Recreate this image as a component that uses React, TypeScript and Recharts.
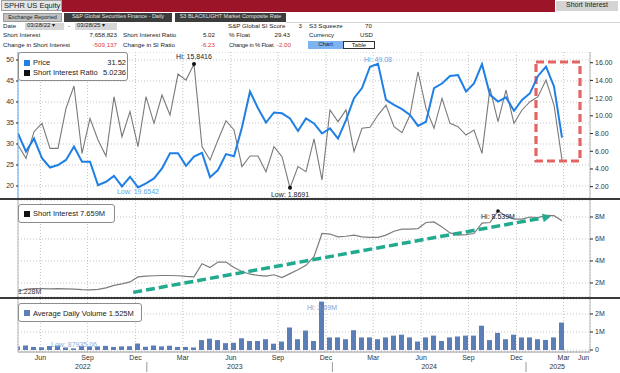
import React from 'react';
import {
  ComposedChart,
  Line,
  Bar,
  XAxis,
  YAxis,
  CartesianGrid,
  ReferenceDot,
  ReferenceArea,
  ReferenceLine,
} from 'recharts';

// semi-monthly samples, Apr 2022 -> Mar 2025
const priceValues = [
  32.5, 28.2, 31.3, 26.6, 24.4, 25.0, 26.2, 29.4, 25.8, 25.8,
  20.2, 21.0, 22.4, 19.9, 22.2, 19.6542, 20.6, 21.8, 24.2, 27.8,
  27.8, 24.8, 27.0, 27.9, 22.1, 23.8, 27.6, 27.1, 34.0, 42.5,
  38.5, 35.1, 37.5, 37.3, 36.1, 33.1, 36.1, 34.9, 32.5, 33.7,
  31.3, 35.7, 40.9, 43.3, 48.4, 49.08, 40.5, 39.3, 38.3, 36.9,
  34.3, 35.3, 43.3, 44.4, 46.2, 46.4, 42.5, 44.4, 49.0, 41.7,
  40.1, 41.1, 37.9, 40.5, 42.1, 46.2, 48.4, 43.7, 31.52,
];

const siRatioValues = [
  6.7, 5.2, 8.21, 9.15, 6.33, 6.33, 10.84, 13.37, 5.76, 9.71,
  7.27, 5.46, 12.16, 7.64, 10.47, 6.52, 12.16, 9.15, 12.35, 10.09,
  14.72, 14.04, 15.8416, 6.52, 5.01, 7.27, 9.45, 8.4, 4.26, 5.46,
  5.46, 3.69, 6.52, 5.39, 1.8691, 4.26, 3.69, 7.4, 2.75, 10.66,
  9.34, 10.66, 5.95, 8.59, 8.7, 10.09, 11.22, 8.77, 8.09, 10.09,
  14.98, 10.84, 8.59, 11.97, 9.15, 8.77, 7.83, 8.4, 5.76, 13.1,
  9.34, 12.91, 9.15, 10.66, 11.6, 12.16, 14.04, 11.22, 5.0236,
];

// millions of shares
const shortInterestM = [
  1.228, 1.45, 1.5, 1.48, 1.47, 1.48, 1.46, 1.44, 1.4, 1.38,
  1.42, 1.55, 1.78, 1.92, 2.1, 2.55, 2.62, 2.66, 2.68, 2.68,
  2.66, 2.6, 2.56, 3.75, 3.4, 3.9, 3.9, 3.4, 3.05, 2.8,
  2.7, 2.62, 2.75, 2.5, 2.85, 3.2, 3.6, 4.4, 6.5, 6.45,
  6.2, 6.25, 6.35, 6.2, 6.15, 6.15, 6.35, 6.7, 6.9, 6.9,
  6.95, 7.5, 7.55, 7.1, 6.55, 6.35, 6.4, 6.5, 7.45, 7.5,
  8.539, 8.1, 7.8, 7.8, 8.0, 7.95, 8.15, 8.12, 7.659,
];

// millions of shares
const avgVolumeM = [
  0.19, 0.25, 0.17, 0.15, 0.22, 0.25, 0.14, 0.088, 0.23, 0.2,
  0.2, 0.23, 0.17, 0.2, 0.21, 0.36, 0.18, 0.25, 0.2, 0.24,
  0.17, 0.17, 0.14, 0.55, 0.63, 0.55, 0.38, 0.4, 0.65, 0.5,
  0.5, 0.6, 0.35, 0.47, 1.25, 0.6, 1.08, 0.5, 2.69, 0.7,
  0.7, 0.6, 1.1, 0.7, 0.7, 0.6, 0.7, 0.8, 0.85, 0.7,
  0.47, 0.7, 0.8, 0.5, 0.7, 0.75, 0.8, 0.8, 1.35, 0.55,
  0.95, 0.6, 0.85, 0.7, 0.7, 0.6, 0.56, 0.7, 1.525,
];

const quarterTickPos = [2.8, 8.7, 14.7, 20.6, 26.6, 32.5, 38.5, 44.4, 50.4, 56.3, 62.3, 68.2, 70.7];
const quarterLabels = ['Jun', 'Sep', 'Dec', 'Mar', 'Jun', 'Sep', 'Dec', 'Mar', 'Jun', 'Sep', 'Dec', 'Mar', 'Jun'];
const gridTickPos = [2.8, 8.7, 14.7, 20.6, 26.6, 32.5, 38.5, 44.4, 50.4, 56.3, 62.3, 68.2];
const yearTickPos = [8.1, 27.1, 51.4, 67.4];
const yearLabels = ['2022', '2023', '2024', '2025'];
const yearBreakPos = [16.1, 39.3, 63.5];

const priceTicks = [20, 25, 30, 35, 40, 45, 50];
const ratioTicks = [2, 4, 6, 8, 10, 12, 14, 16];
const siTicks = [2, 4, 6, 8];
const volTicks = [0, 1, 2];

const rows = priceValues.map((p, i) => ({
  i,
  price: p,
  ratio: siRatioValues[i],
  si: shortInterestM[i],
  vol: avgVolumeM[i],
}));

const X_DOMAIN: [number, number] = [0, 71.5];
const FONT = '"Liberation Sans", Arial, sans-serif';
const axisTick = { fontSize: 7, fill: '#333', fontFamily: FONT };
const GRID = '#c4c4c4';

const argMax = (a: number[]) => a.indexOf(Math.max(...a));
const argMin = (a: number[]) => a.indexOf(Math.min(...a));

function TrendArrow(p: any) {
  const { x1, y1, x2, y2 } = p;
  const ang = Math.atan2(y2 - y1, x2 - x1);
  const L = 8;
  const W = 4.5;
  const bx = x2 - Math.cos(ang) * L;
  const by = y2 - Math.sin(ang) * L;
  const nx = -Math.sin(ang) * W;
  const ny = Math.cos(ang) * W;
  return (
    <g>
      <line x1={x1} y1={y1} x2={bx} y2={by} stroke="#22aa8f" strokeWidth={3.5} strokeDasharray="9 4" />
      <polygon points={`${x2},${y2} ${bx + nx},${by + ny} ${bx - nx},${by - ny}`} fill="#22aa8f" />
    </g>
  );
}

// month / year labels for the bottom axis
function MonthTick(props: any) {
  const { x, y, payload } = props;
  const q = quarterTickPos.indexOf(payload.value);
  return (
    <text x={x} y={y} dy="0.71em" textAnchor="middle" fontSize={7} fill="#333" fontFamily={FONT}>
      {q >= 0 ? quarterLabels[q] : ''}
    </text>
  );
}

function YearTick(props: any) {
  const { x, y, payload } = props;
  const k = yearTickPos.indexOf(payload.value);
  if (k >= 0) {
    return (
      <text x={x} y={y} dy="0.71em" textAnchor="middle" fontSize={7} fill="#333" fontFamily={FONT}>
        {yearLabels[k]}
      </text>
    );
  }
  return <line x1={x} x2={x} y1={y - 2} y2={y + 8} stroke="#9a9a9a" />;
}

function PricePanel() {
  const hiR = argMax(siRatioValues);
  const loR = argMin(siRatioValues);
  const hiP = argMax(priceValues);
  const loP = argMin(priceValues);
  return (
    <ComposedChart width={620} height={146} data={rows} margin={{ top: 0, right: 0, bottom: 0, left: 0 }}>
      <XAxis xAxisId="x" dataKey="i" type="number" domain={X_DOMAIN} ticks={gridTickPos} hide height={0} allowDataOverflow />
      <YAxis
        yAxisId="p" orientation="left" width={18} domain={[17.14, 51.9]} allowDataOverflow
        ticks={priceTicks} interval={0} tick={axisTick} tickSize={2} tickMargin={2}
        axisLine={{ stroke: '#5aa8ee' }} tickLine={{ stroke: '#222' }}
      />
      <YAxis
        yAxisId="r" orientation="right" width={30} domain={[0.72, 17.21]} allowDataOverflow
        ticks={ratioTicks} interval={0} tickFormatter={(v: number) => v.toFixed(2)} tick={axisTick}
        tickSize={3} tickMargin={2} axisLine={{ stroke: '#b8b8b8' }} tickLine={{ stroke: '#222' }}
      />
      <CartesianGrid xAxisId="x" yAxisId="p" stroke={GRID} strokeDasharray="1 2" />
      <Line xAxisId="x" yAxisId="r" dataKey="ratio" type="linear" stroke="#7a7a7a" strokeWidth={1.1} dot={false} isAnimationActive={false} />
      <Line xAxisId="x" yAxisId="p" dataKey="price" type="linear" stroke="#1f7fe5" strokeWidth={2} dot={false} isAnimationActive={false} />
      <ReferenceArea
        xAxisId="x" yAxisId="r" x1={64.75} x2={70.25} y1={4.9} y2={16.08}
        fill="none" stroke="#e46464" strokeWidth={3.2} strokeDasharray="8 4" ifOverflow="visible"
      />
      <ReferenceDot
        xAxisId="x" yAxisId="r" x={hiR} y={siRatioValues[hiR]} r={2} fill="#111" stroke="none"
        label={{ value: `Hi: ${siRatioValues[hiR]}`, position: 'top', offset: 3, fontSize: 7, fill: '#222', fontFamily: FONT }}
      />
      <ReferenceDot
        xAxisId="x" yAxisId="r" x={loR} y={siRatioValues[loR]} r={2} fill="#111" stroke="none"
        label={{ value: `Low: ${siRatioValues[loR]}`, position: 'bottom', offset: 2, fontSize: 7, fill: '#222', fontFamily: FONT }}
      />
      <ReferenceDot
        xAxisId="x" yAxisId="p" x={hiP} y={priceValues[hiP]} r={0} fill="none" stroke="none"
        label={{ value: `Hi: ${priceValues[hiP]}`, position: 'top', offset: 2, fontSize: 7, fill: '#5aa7ea', fontFamily: FONT }}
      />
      <ReferenceDot
        xAxisId="x" yAxisId="p" x={loP} y={priceValues[loP]} r={0} fill="none" stroke="none"
        label={{ value: `Low: ${priceValues[loP]}`, position: 'bottom', offset: 2, fontSize: 7, fill: '#5aa7ea', fontFamily: FONT }}
      />
    </ComposedChart>
  );
}

function ShortInterestPanel() {
  const hi = argMax(shortInterestM);
  const lo = argMin(shortInterestM);
  return (
    <ComposedChart width={620} height={97} data={rows} margin={{ top: 0, right: 0, bottom: 0, left: 0 }}>
      <XAxis xAxisId="x" dataKey="i" type="number" domain={X_DOMAIN} ticks={gridTickPos} hide height={0} allowDataOverflow />
      <YAxis yAxisId="l" orientation="left" width={18} domain={[0, 1]} tick={false} tickLine={false} axisLine={{ stroke: '#b8b8b8' }} />
      <YAxis
        yAxisId="r" orientation="right" width={30} domain={[0.727, 9.545]} allowDataOverflow
        ticks={siTicks} interval={0} tickFormatter={(v: number) => `${v}M`} tick={axisTick}
        tickSize={3} tickMargin={2} axisLine={{ stroke: '#b8b8b8' }} tickLine={{ stroke: '#222' }}
      />
      <CartesianGrid xAxisId="x" yAxisId="r" stroke={GRID} strokeDasharray="1 2" />
      <Line xAxisId="x" yAxisId="r" dataKey="si" type="linear" stroke="#7d7d7d" strokeWidth={1.2} dot={false} isAnimationActive={false} />
      <ReferenceLine
        xAxisId="x" yAxisId="r" segment={[{ x: 14.4, y: 1.15 }, { x: 66.6, y: 8.05 }]}
        shape={TrendArrow} ifOverflow="visible"
      />
      <ReferenceDot
        xAxisId="x" yAxisId="r" x={hi} y={shortInterestM[hi]} r={1.8} fill="#111" stroke="none"
        label={{ value: `Hi: ${shortInterestM[hi]}M`, position: 'bottom', offset: 1, fontSize: 7, fill: '#222', fontFamily: FONT }}
      />
      <ReferenceDot
        xAxisId="x" yAxisId="r" x={lo} y={shortInterestM[lo]} r={0} fill="none" stroke="none"
        label={{ value: `${shortInterestM[lo]}M`, position: 'right', offset: 0, fontSize: 7, fill: '#333', fontFamily: FONT }}
      />
    </ComposedChart>
  );
}

function VolumePanel() {
  const hi = argMax(avgVolumeM);
  const lo = argMin(avgVolumeM);
  const minorTicks = Array.from({ length: 72 }, (_, k) => k);
  return (
    <ComposedChart width={620} height={74} data={rows} margin={{ top: 0, right: 0, bottom: 0, left: 0 }}>
      <XAxis
        xAxisId="a" dataKey="i" type="number" domain={X_DOMAIN} allowDataOverflow ticks={minorTicks} interval={0}
        tick={false} tickSize={2} tickMargin={0} height={3}
        axisLine={{ stroke: '#9a9a9a' }} tickLine={{ stroke: '#9a9a9a' }}
      />
      <XAxis
        xAxisId="b" dataKey="i" type="number" domain={X_DOMAIN} allowDataOverflow ticks={quarterTickPos} interval={0}
        tick={<MonthTick />} tickSize={0} tickMargin={0} tickLine={false} axisLine={false} height={9}
      />
      <XAxis
        xAxisId="c" dataKey="i" type="number" domain={X_DOMAIN} allowDataOverflow
        ticks={[...yearTickPos, ...yearBreakPos]} interval={0}
        tick={<YearTick />} tickSize={0} tickMargin={0} tickLine={false} axisLine={false} height={9}
      />
      <XAxis xAxisId="z" dataKey="i" type="number" domain={X_DOMAIN} allowDataOverflow ticks={gridTickPos} hide height={0} />
      <YAxis yAxisId="l" orientation="left" width={18} domain={[0, 1]} tick={false} tickLine={false} axisLine={{ stroke: '#b8b8b8' }} />
      <YAxis
        yAxisId="r" orientation="right" width={30} domain={[-0.111, 2.833]} allowDataOverflow
        ticks={volTicks} interval={0} tickFormatter={(v: number) => (v === 0 ? '0' : `${v}M`)} tick={axisTick}
        tickSize={3} tickMargin={2} axisLine={{ stroke: '#b8b8b8' }} tickLine={{ stroke: '#222' }}
      />
      <CartesianGrid xAxisId="z" yAxisId="r" stroke={GRID} strokeDasharray="1 2" />
      <Bar xAxisId="a" yAxisId="r" dataKey="vol" fill="#5b7db8" barSize={5} isAnimationActive={false} />
      <ReferenceDot
        xAxisId="a" yAxisId="r" x={hi} y={avgVolumeM[hi]} r={0} fill="none" stroke="none"
        label={{ value: `Hi: ${avgVolumeM[hi]}M`, position: 'bottom', offset: 3, fontSize: 7, fill: '#8aa0c8', fontFamily: FONT }}
      />
      <ReferenceDot
        xAxisId="a" yAxisId="r" x={lo} y={avgVolumeM[lo]} r={0} fill="none" stroke="none"
        label={{ value: 'Low: 87935.06', position: 'top', offset: 1, fontSize: 7, fill: '#8fb0dc', fontFamily: FONT }}
      />
    </ComposedChart>
  );
}

function Txt({ x, cy, right, color = '#222', size = 6.2, spacing = 0, children }: any) {
  const style: React.CSSProperties = {
    position: 'absolute', top: cy - 4, height: 8, lineHeight: '8px', fontSize: size, color,
    whiteSpace: 'nowrap', fontFamily: FONT, letterSpacing: spacing,
  };
  if (right) style.right = 620 - x;
  else style.left = x;
  return <div style={style}>{children}</div>;
}

function Box({ x, y, w, h, bg, color = '#222', border, size = 6.2, align = 'left', children }: any) {
  return (
    <div
      style={{
        position: 'absolute', left: x, top: y, width: w, height: h, background: bg, color, border,
        boxSizing: 'border-box', fontSize: size, lineHeight: `${h - 2}px`, textAlign: align,
        paddingLeft: align === 'left' ? 2 : 0, whiteSpace: 'nowrap', overflow: 'hidden', fontFamily: FONT,
      }}
    >
      {children}
    </div>
  );
}

function Header() {
  const red = '#d63a42';
  return (
    <>
      <Box x={1} y={0} w={61} h={11} bg="#e6e6e6" border="1px solid #a0a0a0" size={7.5}>SPHR US Equity</Box>
      <div style={{ position: 'absolute', left: 62, top: 0, width: 493, height: 12, background: '#9b1427' }} />
      <Box x={556} y={1} w={62} h={10} bg="#d4d4d4" size={7} align="center">Short Interest</Box>

      <Box x={3} y={13} w={59} h={9} bg="#c2c2c2" border="1px solid #9a9a9a" size={5.5} align="center">Exchange Reported</Box>
      <Box x={64} y={13} w={108} h={9} bg="#3c3c3c" color="#e0e0e0" size={5.5} align="center">S&amp;P Global Securities Finance - Daily</Box>
      <Box x={175} y={13} w={111} h={9} bg="#3c3c3c" color="#e0e0e0" size={5.5} align="center">S3 BLACKLIGHT Market Composite Rate</Box>
      <div style={{ position: 'absolute', left: 286, top: 22, width: 334, height: 1, background: '#d4d4d4' }} />

      <Txt x={3} cy={26}>Date</Txt>
      <Box x={25} y={23} w={39} h={7} bg="#d6d6d6" size={6}>03/28/22 ▾</Box>
      <Txt x={68} cy={26}>-</Txt>
      <Box x={75} y={23} w={42} h={7} bg="#d6d6d6" size={6}>03/28/25 ▾</Box>
      <Txt x={228} cy={26}>S&amp;P Global SI Score</Txt>
      <Txt x={302} cy={26} right>3</Txt>
      <Txt x={309} cy={26}>S3 Squeeze</Txt>
      <Txt x={372} cy={26} right>70</Txt>

      <Txt x={3} cy={35}>Short Interest</Txt>
      <Txt x={117} cy={35} right>7,658,823</Txt>
      <Txt x={123} cy={35}>Short Interest Ratio</Txt>
      <Txt x={215} cy={35} right>5.02</Txt>
      <Txt x={229} cy={35}>% Float</Txt>
      <Txt x={290} cy={35} right>29.43</Txt>
      <Txt x={309} cy={35}>Currency</Txt>
      <Txt x={373} cy={35} right>USD</Txt>

      <Txt x={3} cy={45}>Change in Short Interest</Txt>
      <Txt x={117} cy={45} right color={red}>-509,137</Txt>
      <Txt x={123} cy={45}>Change in SI Ratio</Txt>
      <Txt x={215} cy={45} right color={red}>-6.23</Txt>
      <Txt x={229} cy={45} size={5.8} spacing={-0.2}>Change in % Float</Txt>
      <Txt x={291} cy={45} right color={red}>-2.00</Txt>
      <Box x={308} y={41} w={35} h={8} bg="#7eb3f2" size={6} align="center">Chart</Box>
      <Box x={343} y={41} w={32} h={8} bg="#fff" border="1px solid #333" size={6} align="center">Table</Box>
    </>
  );
}

function LegendBox({ x, y, w, h, top, items }: any) {
  return (
    <div
      style={{
        position: 'absolute', left: x, top: y, width: w, height: h, border: '1px solid #8c8c8c',
        borderRadius: 3, background: '#fff', boxSizing: 'border-box', fontFamily: FONT,
      }}
    >
      {items.map((it: any, k: number) => (
        <div
          key={k}
          style={{
            position: 'absolute', left: 5, right: 1, top: top + k * 10, height: 9, display: 'flex',
            alignItems: 'center', fontSize: 7.5, color: '#222', whiteSpace: 'nowrap',
          }}
        >
          <span style={{ width: 6, height: 6, background: it.color, marginRight: 3, flex: 'none' }} />
          <span style={{ flex: 1 }}>{it.label}</span>
          {it.value ? <span>{it.value}</span> : null}
        </div>
      ))}
    </div>
  );
}

export default function App() {
  return (
    <div style={{ position: 'relative', width: 620, height: 373, overflow: 'hidden', background: '#fff', fontFamily: FONT }}>
      <style>{'body{margin:0}'}</style>
      <Header />
      <div style={{ position: 'absolute', left: 0, top: 52 }}>
        <PricePanel />
      </div>
      <div style={{ position: 'absolute', left: 0, top: 200 }}>
        <ShortInterestPanel />
      </div>
      <div style={{ position: 'absolute', left: 0, top: 299 }}>
        <VolumePanel />
      </div>
      <div style={{ position: 'absolute', left: 0, top: 198, width: 620, height: 2, background: '#3a3a3a' }} />
      <div style={{ position: 'absolute', left: 0, top: 297, width: 620, height: 2, background: '#3a3a3a' }} />
      <LegendBox
        x={18} y={52} w={110} h={29} top={5}
        items={[
          { color: '#1f7fe5', label: 'Price', value: priceValues[priceValues.length - 1].toFixed(2) },
          { color: '#111', label: 'Short Interest Ratio', value: String(siRatioValues[siRatioValues.length - 1]) },
        ]}
      />
      <LegendBox
        x={18} y={204} w={97} h={19} top={4}
        items={[{ color: '#111', label: `Short Interest ${shortInterestM[shortInterestM.length - 1]}M` }]}
      />
      <LegendBox
        x={18} y={303} w={124} h={19} top={4.5}
        items={[{ color: '#5b7db8', label: `Average Daily Volume ${avgVolumeM[avgVolumeM.length - 1]}M` }]}
      />
    </div>
  );
}
